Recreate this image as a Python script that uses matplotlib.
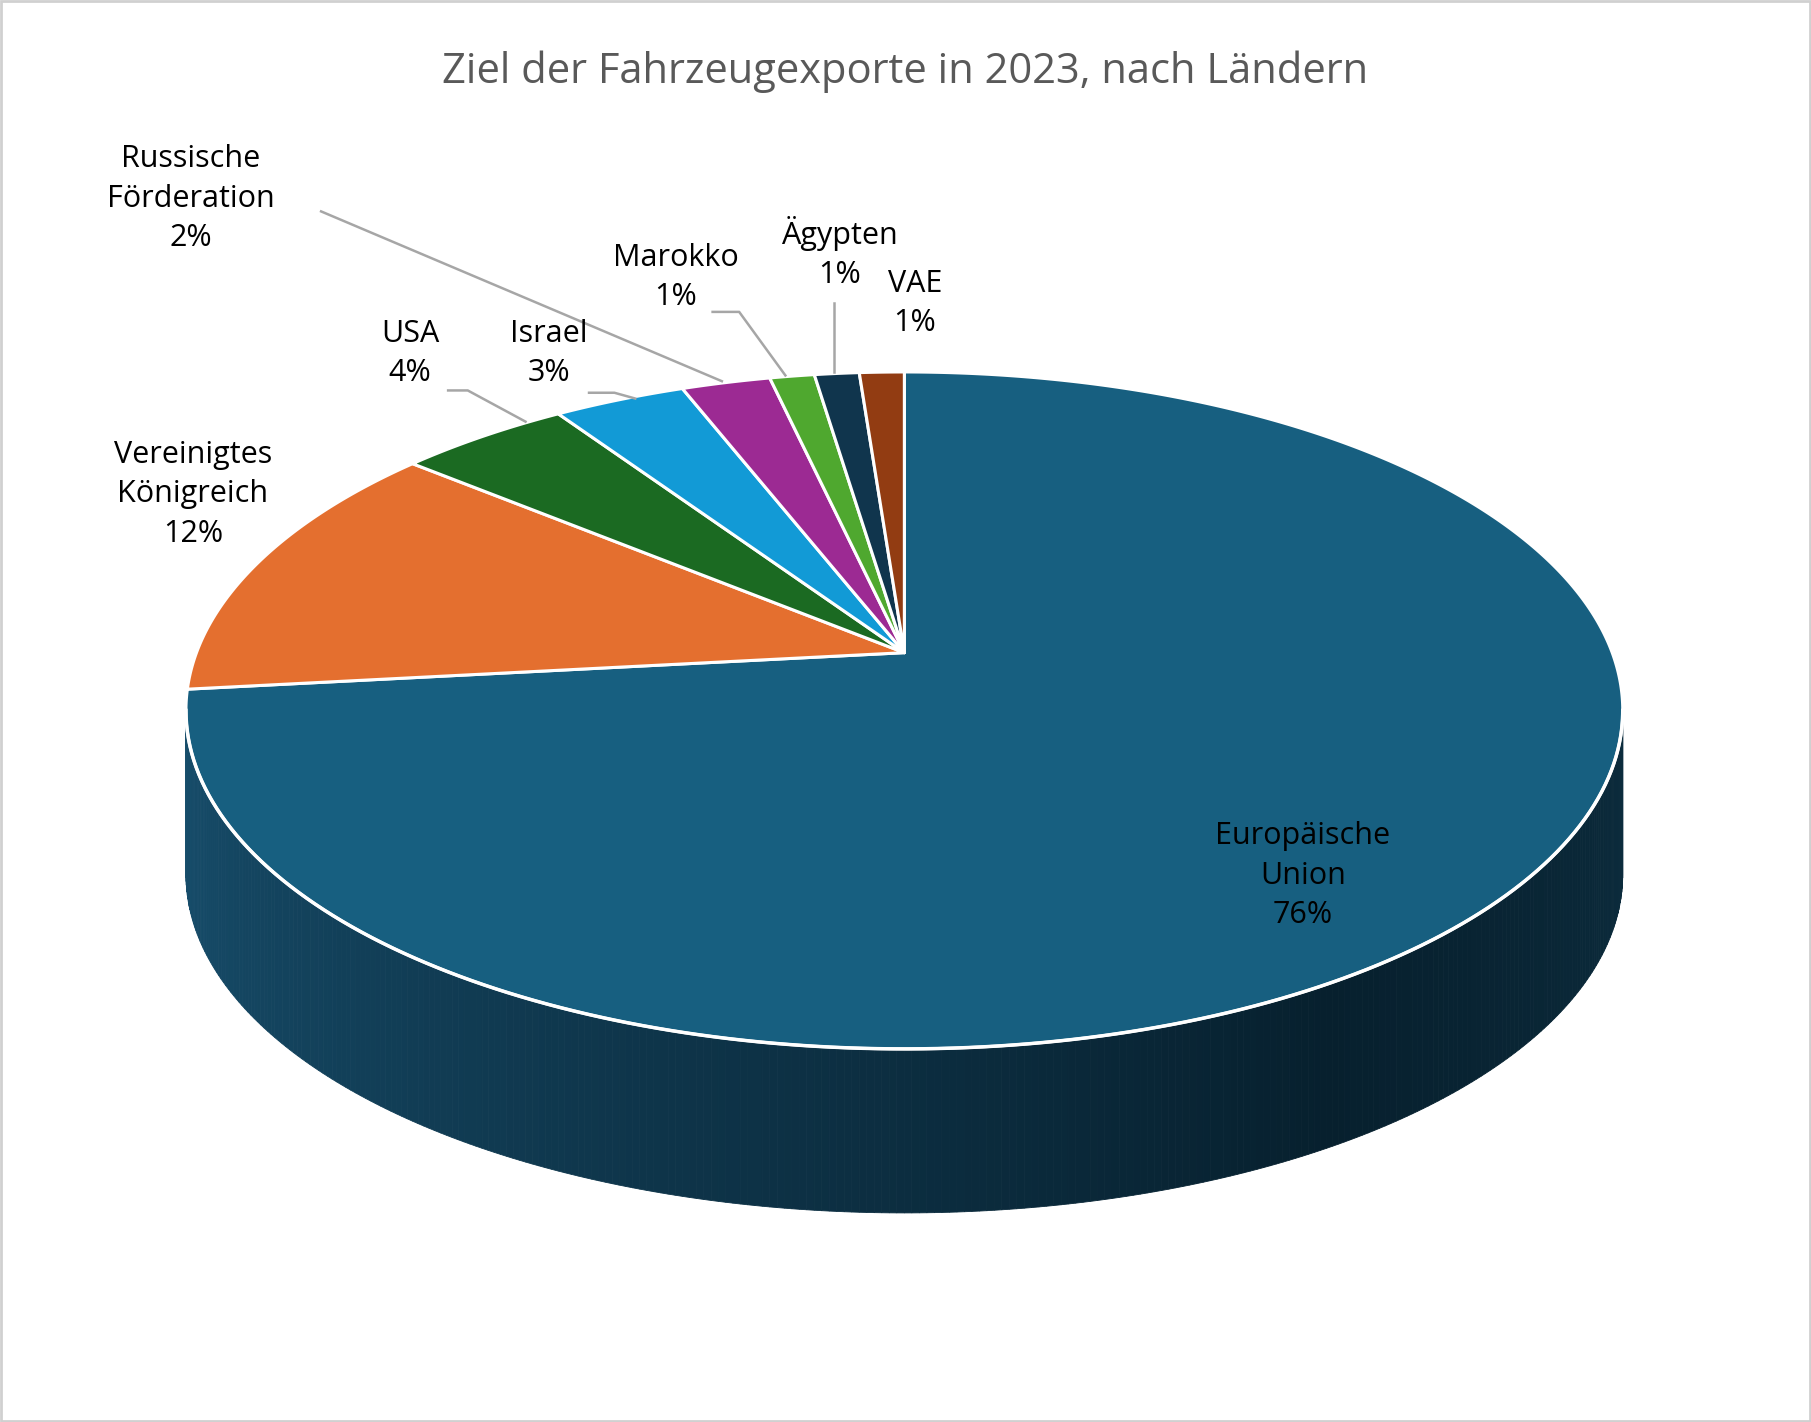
import matplotlib
matplotlib.use('Agg')
import numpy as np
import matplotlib.pyplot as plt
from matplotlib.patches import Polygon, Rectangle

# --- data ---
countries = ["Europäische\nUnion", "Vereinigtes\nKönigreich", "USA", "Israel",
             "Russische\nFörderation", "Marokko", "Ägypten", "VAE"]
shares = [76, 12, 4, 3, 2, 1, 1, 1]
colors = ["#175f80", "#e46f2f", "#1b6a22", "#129ad6", "#9c2a93", "#4fa82f", "#10354d", "#923c12"]
title = "Ziel der Fahrzeugexporte in 2023, nach Ländern"

plt.rcParams['font.family'] = 'Open Sans'
fig = plt.figure(figsize=(18.11, 14.22), dpi=100)
ax = fig.add_axes([0, 0, 1, 1])
W, H = 1568, 1231
ax.set_xlim(0, W)
ax.set_ylim(H, 0)
ax.axis('off')
ax.add_patch(Rectangle((1, 1), W - 2, H - 2, fill=False, ec="#d0d0d0", lw=2))

cx, cy, rx, ry, depth = 783, 615, 622, 293, 142
apex = (783, 565)  # slice apex sits higher than ellipse centre (perspective)

def pt(t):
    return cx + rx * np.cos(t), cy - ry * np.sin(t)

# --- side wall (front half, gradient) ---
c0 = np.array([0x17, 0x4e, 0x6c]) / 255
c1 = np.array([0x07, 0x20, 0x2e]) / 255
c2 = np.array([0x0c, 0x2c, 0x3d]) / 255
n = 300
ts = np.linspace(np.pi, 2 * np.pi, n + 1)
for i in range(n):
    a, b = ts[i], ts[i + 1]
    xa, ya = pt(a); xb, yb = pt(b)
    f = i / n
    col = c0 + (c1 - c0) * (f / 0.7) if f < 0.7 else c1 + (c2 - c1) * ((f - 0.7) / 0.3)
    ax.add_patch(Polygon([(xa, ya), (xb, yb), (xb, yb + depth), (xa, ya + depth)],
                         closed=True, fc=col, ec=col, lw=0.6))

# --- top face slices (clockwise from 12 o'clock) ---
start = np.pi / 2
total = float(sum(shares))
for v, col in zip(shares, colors):
    end = start - 2 * np.pi * v / total
    tt = np.linspace(start, end, max(int(abs(end - start) * 200), 4))
    xs, ys = pt(tt)
    verts = [apex] + list(zip(xs, ys))
    ax.add_patch(Polygon(verts, closed=True, fc=col, ec="white", lw=2.2, joinstyle='round'))
    start = end

# white front edge of the top face
tt = np.linspace(np.pi, 2 * np.pi, 300)
xs, ys = pt(tt)
ax.plot(xs, ys, color="white", lw=2.5)

ax.text(W / 2, 62, title, ha='center', va='center', fontsize=30, color="#595959")

# --- labels ---
pct = [f"{v}%" for v in shares]
lab_pos = [(1128, 758), (167, 428), (355, 306), (475, 306), (165, 172), (585, 240), (727, 219), (792, 263)]
for name, p, (x, y) in zip(countries, pct, lab_pos):
    ax.text(x, y, name + "\n" + p, ha='center', va='center', fontsize=22,
            color="black", linespacing=1.4)

lc = "#a6a6a6"
ax.plot([278, 625], [183, 330], color=lc, lw=1.8)
ax.plot([388, 405, 455], [338, 338, 365], color=lc, lw=1.8)
ax.plot([510, 532, 550], [340, 340, 345], color=lc, lw=1.8)
ax.plot([617, 640, 680], [270, 270, 325], color=lc, lw=1.8)
ax.plot([722, 722], [262, 322], color=lc, lw=1.8)

fig.savefig("out.png", dpi=100)
